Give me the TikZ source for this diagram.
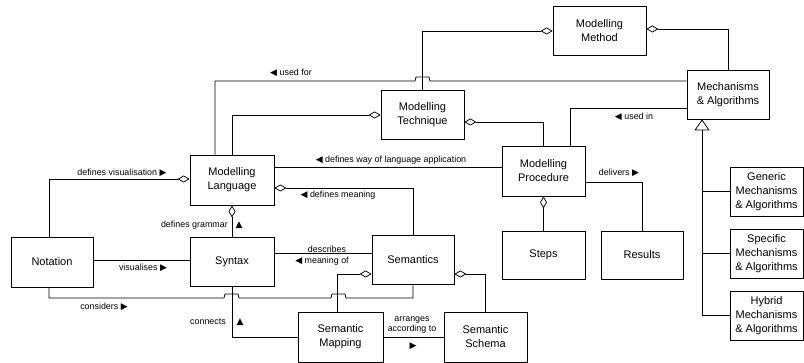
\documentclass[tikz,border=0pt]{standalone}
\usepackage{fontspec}
\setmainfont{Liberation Sans}
\newfontfamily\trifont{DejaVu Sans}
\usetikzlibrary{arrows.meta, positioning}

\newcommand{\tri}[1]{{\trifont\fontsize{9}{9}\selectfont #1}}

\begin{document}
\begin{tikzpicture}[x=1pt, y=-1pt,
  box/.style={draw, line width=0.75pt, minimum width=83pt, minimum height=49pt, align=center, inner sep=1pt, font=\fontsize{11}{14}\selectfont},
  lbl/.style={inner sep=0pt, align=center, font=\fontsize{8.9}{10.5}\selectfont},
  link/.style={line width=0.75pt},
  agg/.style={link, -{Diamond[open, length=12pt, width=7pt, line width=0.75pt]}},
  gen/.style={link, -{Triangle[open, length=11pt, width=15pt, line width=0.75pt]}}]
\useasboundingbox (0,0) rectangle (804,363);

% concepts
\node[box, minimum width=93pt] (method) at (599.5,31) {Modelling\\Method};
\node[box, minimum width=82pt] (mech) at (728,94.5) {Mechanisms\\\& Algorithms};
\node[box] (tech) at (422.5,115) {Modelling\\Technique};
\node[box, minimum width=84pt, minimum height=50pt] (lang) at (232,180) {Modelling\\Language};
\node[box, minimum height=50pt] (proc) at (543.5,171) {Modelling\\Procedure};
\node[box, minimum width=82pt, minimum height=50pt] (nota) at (52,262) {Notation};
\node[box, minimum width=84pt] (syn) at (232,261.5) {Syntax};
\node[box, minimum width=82pt] (sem) at (413,259.5) {Semantics};
\node[box, minimum width=85pt, minimum height=50pt] (map) at (340.5,337) {Semantic\\Mapping};
\node[box, minimum height=50pt] (schema) at (485.5,337) {Semantic\\Schema};
\node[box, minimum height=48pt] (steps) at (543.5,255) {Steps};
\node[box, minimum width=82pt, minimum height=48pt] (results) at (642,255) {Results};

% kinds of mechanisms
\node[box, minimum width=73pt] (generic) at (766.5,191.5) {Generic\\Mechanisms\\\& Algorithms};
\node[box, minimum width=73pt] (specific) at (766.5,253.5) {Specific\\Mechanisms\\\& Algorithms};
\node[box, minimum width=73pt] (hybrid) at (766.5,315.5) {Hybrid\\Mechanisms\\\& Algorithms};

% aggregation
\draw[agg] (tech.north) |- (method.west);
\draw[agg] (mech.north) |- ([yshift=2pt]method.east);
\draw[agg] (lang.north) |- (tech.west);
\draw[agg] (proc.north) |- ([yshift=-7pt]tech.east);
\draw[agg] ([xshift=-3pt]nota.north) |- ([yshift=1pt]lang.west);
\draw[agg] (sem.north) |- ([yshift=-8pt]lang.east);
\draw[agg] (syn.north) -- (lang.south);
\draw[agg] ([xshift=-3.5pt]map.north) |- ([yshift=-14.5pt]sem.west);
\draw[agg] (schema.north) |- ([yshift=-14.5pt]sem.east);
\draw[agg] (steps.north) -- (proc.south);

% associations (with line hops)
\draw[link] ([xshift=-17pt]lang.north) |- (415,81) -- (416,77) -- (429,77) -- (430,81) -- ([yshift=13.5pt]mech.west);
\draw[link] ([xshift=27pt]proc.north) |- ([yshift=-13.5pt]mech.west);
\draw[link] ([yshift=13pt]lang.east) -- ([yshift=4pt]proc.west);
\draw[link] ([yshift=2pt]nota.east) -- ([yshift=1.5pt]syn.west);
\draw[link] ([yshift=8.5pt]syn.east) -- ([yshift=6.5pt]sem.west);
\draw[link] ([xshift=-3pt]nota.south) |- (224,298) -- (225,294) -- (238,294) -- (239,298) -- (331,298) -- (332,294) -- (345,294) -- (346,298) -| (sem.south);
\draw[link] (syn.south) |- (map.west);
\draw[link] (map.east) -- (schema.west);
\draw[link] (results.north) |- ([yshift=-11pt]proc.east);

% generalisation
\coordinate (gen) at ([xshift=-26pt]mech.south);
\draw[gen] (hybrid.west) -| (gen);
\draw[link] (generic.west) -- (generic.west -| gen);
\draw[link] (specific.west) -- (specific.west -| gen);

% labels
\node[lbl] (lusedfor) at (291,73) {\tri{◀} used for};
\node[lbl] (lusedin) at (634,117) {\tri{◀} used in};
\node[lbl] (lway) at (391,160) {\tri{◀} defines way of language application};
\node[lbl] (lvis) at (122,173) {defines visualisation \tri{▶}};
\node[lbl] (lmeaning) at (338,195) {\tri{◀} defines meaning};
\node[lbl, anchor=east] (lgrammar) at (228,225) {defines grammar};
\node[lbl] (agrammar) at (239,225) {\tri{▲}};
\node[lbl] (lvisualises) at (143,268) {visualises \tri{▶}};
\node[lbl] (ldescribes) at (327,249) {describes};
\node[lbl] (lmeaningof) at (322,261) {\tri{◀} meaning of};
\node[lbl] (lconsiders) at (104,307) {considers \tri{▶}};
\node[lbl, anchor=east] (lconnects) at (226,322) {connects};
\node[lbl] (aconnects) at (240,322) {\tri{▲}};
\node[lbl] (larranges) at (412,325) {arranges\\according to};
\node[lbl] (aarranges) at (413,346) {\tri{▶}};
\node[lbl] (ldelivers) at (619,173) {delivers \tri{▶}};
\end{tikzpicture}
\end{document}
